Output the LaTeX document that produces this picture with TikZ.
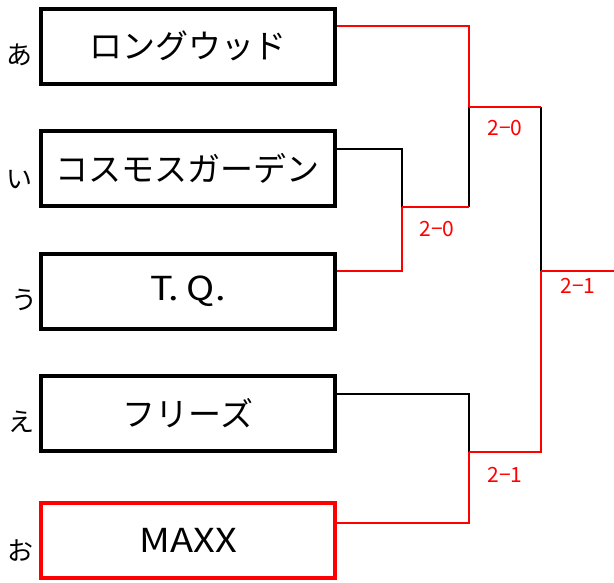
\documentclass[tikz,border=0pt]{standalone}
\usepackage{fontspec}
\setmainfont{Noto Sans CJK JP}
\usepackage{tikz}
\usetikzlibrary{positioning,calc}

\tikzset{
  team/.style={draw, line width=4pt, minimum width=293.5pt, minimum height=75pt,
    inner sep=0pt, font=\fontsize{33}{36}\selectfont},
  tag/.style={font=\fontsize{26}{28}\selectfont, inner sep=0pt},
  score/.style={red, font=\fontsize{21}{24}\selectfont, inner sep=0pt},
  win/.style={red, line width=1.6pt},
  lose/.style={black, line width=1.6pt}
}
\newcommand{\wide}[1]{{\addfontfeature{FakeStretch=1.15}#1}}

\begin{document}
\begin{tikzpicture}[x=1pt, y=-1pt]
        \useasboundingbox (0,0) rectangle (614,582);

        % Teams
        \node[team] (b1) at (188,46) {ロングウッド};
        \node[team] (b2) at (188,168) {コスモスガーデン};
        \node[team] (b3) at (188,291) {\wide{T.\hspace{8pt}Q.}\hspace{12pt}};
        \node[team] (b4) at (188,413) {フリーズ};
        \node[team, red] (b5) at (188,540) {\textcolor{black}{\wide{MAXX}}};

        \node[tag] (t1) at (19,55) {あ};
        \node[tag] (t2) at (19,180) {い};
        \node[tag] (t3) at (24,300) {う};
        \node[tag] (t4) at (22,422) {え};
        \node[tag] (t5) at (20,551) {お};

        % Junctions
        \coordinate (q1) at (402,207);
        \coordinate (q2) at (469,107);
        \coordinate (q3) at (469,452);
        \coordinate (q4) at (541,271);
        \coordinate (champ) at (614,271);

        % First round
        \draw[lose] ([yshift=19pt]b2.east) -| (q1);
        \draw[win] ([yshift=20pt]b3.east) -| (q1);
        \draw[lose] ([yshift=19pt]b4.east) -| (q3);
        \draw[win] ([yshift=17pt]b5.east) -| (q3);

        % Second round
        \draw[lose] (q1 -| q2) -- (q2);
        \draw[win] (q1) -- (q1 -| q2);
        \draw[win] ([yshift=20pt]b1.east) -| (q2);

        % Final
        \draw[lose] (q2 -| q4) -- (q4);
        \draw[win] (q2) -- (q2 -| q4);
        \draw[win] (q3) -| (q4);
        \draw[win] (q4) -- (champ);

        % Scores
        \node[score] (s1) at (437,229) {2−0};
        \node[score] (s2) at (505,128) {2−0};
        \node[score] (s3) at (505,475) {2−1};
        \node[score] (s4) at (578,286) {2−1};
    \end{tikzpicture}
\end{document}
